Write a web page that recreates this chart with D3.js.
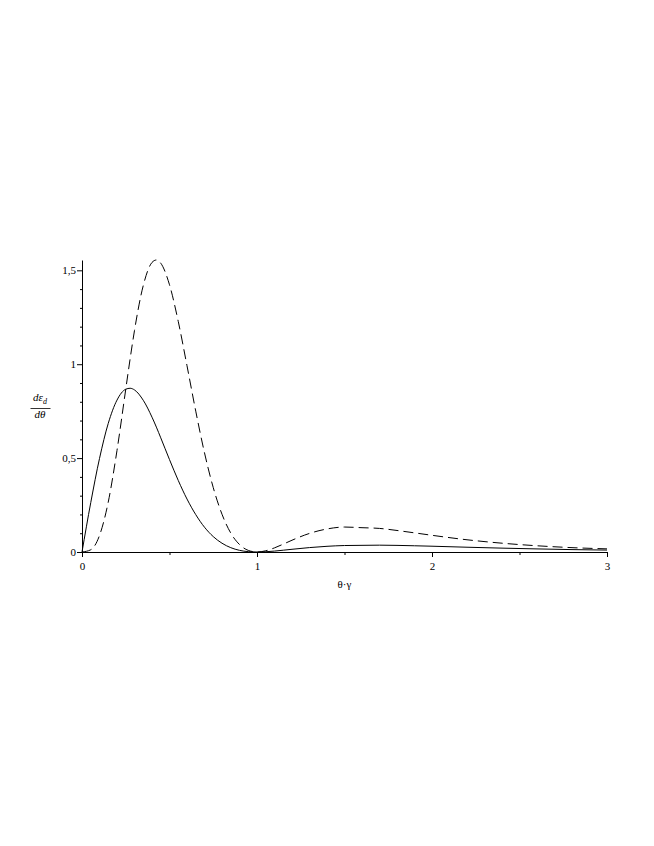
<!DOCTYPE html>
<html>
<head>
<meta charset="utf-8">
<script src="https://cdn.jsdelivr.net/npm/d3@7"></script>
<style>
  html, body { margin: 0; padding: 0; background: #fff; }
  svg text { font-family: "Liberation Serif", "Times New Roman", serif; fill: #000; }
</style>
</head>
<body>
<div id="chart"></div>
<script>
// ==== Data ====
const thetaGamma = [0, 0.05, 0.1, 0.15, 0.2, 0.25, 0.275, 0.3, 0.35, 0.4, 0.425, 0.45, 0.5,
  0.55, 0.6, 0.65, 0.7, 0.75, 0.8, 0.85, 0.9, 0.95, 1, 1.05, 1.1, 1.15, 1.2, 1.3, 1.4,
  1.5, 1.6, 1.7, 1.8, 1.9, 2, 2.2, 2.4, 2.6, 2.8, 3];

const solidVals = [0, 0.263, 0.498, 0.685, 0.809, 0.867, 0.872, 0.863, 0.808, 0.718, 0.665, 0.608, 0.492,
  0.381, 0.282, 0.199, 0.132, 0.082, 0.0467, 0.0231, 0.0089, 0.0019, 0, 0.0014, 0.0049, 0.0095, 0.0144, 0.0235, 0.0303,
  0.0345, 0.0355, 0.0364, 0.0352, 0.0332, 0.0308, 0.0254, 0.0206, 0.0164, 0.0128, 0.0103];

const dashedVals = [0, 0.0118, 0.088, 0.266, 0.541, 0.867, 1.029, 1.180, 1.419, 1.542, 1.555, 1.538, 1.423,
  1.228, 0.992, 0.750, 0.528, 0.343, 0.201, 0.101, 0.0399, 0.0087, 0, 0.0065, 0.022, 0.0419, 0.0627, 0.099, 0.1226,
  0.1329, 0.1294, 0.1256, 0.1146, 0.1019, 0.0889, 0.0651, 0.0469, 0.0332, 0.0232, 0.0167];

const xMajorTicks = [0, 1, 2, 3];
const xMinorTicks = [0.5, 1.5, 2.5];
const yMajorTicks = [0, 0.5, 1, 1.5];
const yMinorTicks = [0.1, 0.2, 0.3, 0.4, 0.6, 0.7, 0.8, 0.9, 1.1, 1.2, 1.3, 1.4];

// ==== Layout ====
const W = 654, H = 846;
const plot = { left: 82, right: 607, top: 260, bottom: 552 };

const svg = d3.select("#chart").append("svg")
  .attr("width", W)
  .attr("height", H);

const yMax = d3.max(dashedVals);

const x = d3.scaleLinear().domain([0, 3]).range([plot.left, plot.right]);
const y = d3.scaleLinear().domain([0, yMax]).range([plot.bottom, plot.top]);

// dấu phẩy thập phân như hình gốc
const fmtComma = v => String(v).replace(".", ",");

// ==== Axes ====
const gx = svg.append("g").attr("transform", `translate(0,${plot.bottom})`);
gx.call(d3.axisBottom(x).tickValues(xMajorTicks).tickSize(5).tickPadding(5)
  .tickSizeOuter(0).tickFormat(fmtComma));
svg.append("g").attr("transform", `translate(0,${plot.bottom})`)
  .call(d3.axisBottom(x).tickValues(xMinorTicks).tickSize(3).tickFormat(""))
  .select(".domain").remove();

const gy = svg.append("g").attr("transform", `translate(${plot.left},0)`);
gy.call(d3.axisLeft(y).tickValues(yMajorTicks).tickSize(5).tickPadding(1)
  .tickSizeOuter(0).tickFormat(fmtComma));
svg.append("g").attr("transform", `translate(${plot.left},0)`)
  .call(d3.axisLeft(y).tickValues(yMinorTicks).tickSize(2).tickFormat(""))
  .select(".domain").remove();

svg.selectAll(".domain, .tick line").attr("stroke", "#000").attr("stroke-width", 1);
svg.selectAll(".tick text").attr("font-size", 11).attr("fill", "#000")
  .style("font-family", "'Liberation Serif', serif");

// ==== Curves ====
const pts = vals => thetaGamma.map((t, i) => [t, vals[i]]);
const line = d3.line()
  .x(d => x(d[0]))
  .y(d => y(d[1]))
  .curve(d3.curveMonotoneX);

svg.append("path")
  .datum(pts(solidVals))
  .attr("fill", "none")
  .attr("stroke", "#000")
  .attr("stroke-width", 1)
  .attr("d", line);

svg.append("path")
  .datum(pts(dashedVals))
  .attr("fill", "none")
  .attr("stroke", "#000")
  .attr("stroke-width", 1)
  .attr("stroke-dasharray", "10,5")
  .attr("d", line);

// ==== Axis titles ====
svg.append("text")
  .attr("x", (plot.left + plot.right) / 2)
  .attr("y", 588)
  .attr("text-anchor", "middle")
  .attr("font-size", 11)
  .text("θ·γ");

const yl = svg.append("g").attr("transform", "translate(40,0)");
const num = yl.append("text")
  .attr("x", 0).attr("y", 401)
  .attr("text-anchor", "middle")
  .attr("font-size", 11)
  .attr("font-style", "italic");
num.append("tspan").text("dε");
num.append("tspan").attr("dy", 3).attr("font-size", 8).text("d");
yl.append("line")
  .attr("x1", -9.5).attr("x2", 10.5)
  .attr("y1", 408.5).attr("y2", 408.5)
  .attr("stroke", "#000").attr("stroke-width", 0.8);
yl.append("text")
  .attr("x", 0).attr("y", 418)
  .attr("text-anchor", "middle")
  .attr("font-size", 11)
  .attr("font-style", "italic")
  .text("dθ");
</script>
</body>
</html>
